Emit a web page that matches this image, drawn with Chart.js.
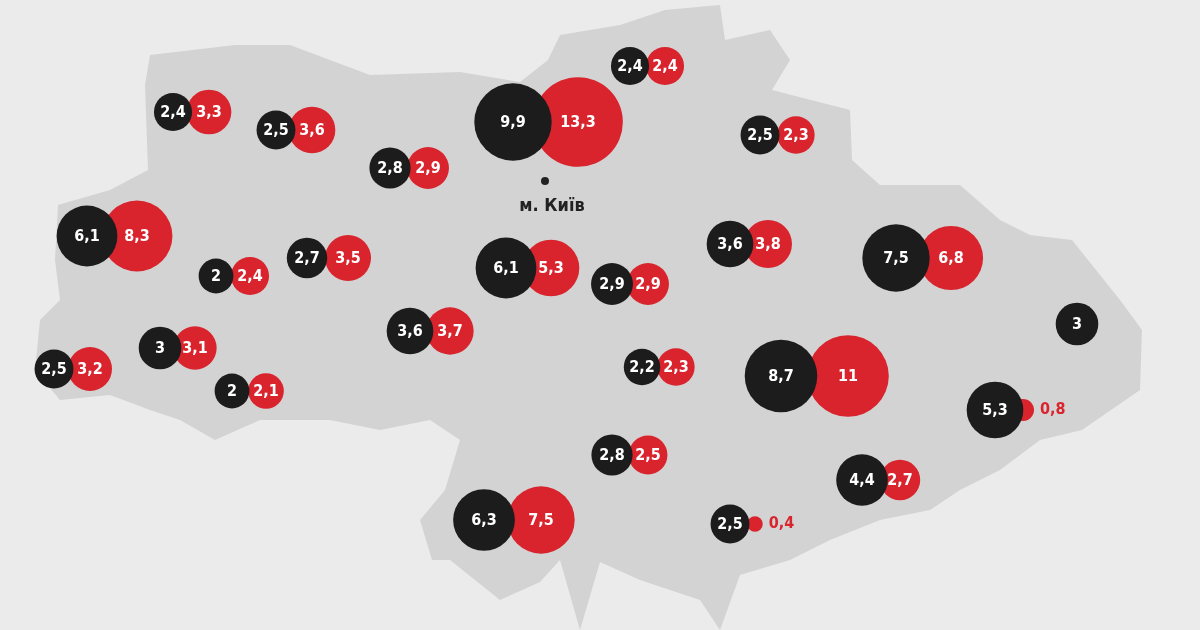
<!DOCTYPE html>
<html><head><meta charset="utf-8">
<script src="https://cdn.jsdelivr.net/npm/chart.js@4/dist/chart.umd.min.js"></script>
<style>html,body{margin:0;background:#ebebeb}#w{width:1200px;height:630px}</style>
</head><body><div id="w"><canvas id="c"></canvas></div>
<script>
// map positions of region bubble pairs (black centre, red centre)
const blackX=[173,276,390,513,630,760,87,216,307,506,612,730,896,1077,54,160,232,410,642,781,995,612,862,484,730];
const blackY=[112,130,168,122,66,135,236,276,258,268,284,244,258,324,369,348,391,331,367,376,410,455,480,520,524];
const redX=[209,312,428,578,665,796,137,250,348,551,648,768,951,null,90,195,266,450,676,848,1023,648,900,541,755];
const blackVals=[2.4,2.5,2.8,9.9,2.4,2.5,6.1,2,2.7,6.1,2.9,3.6,7.5,3,2.5,3,2,3.6,2.2,8.7,5.3,2.8,4.4,6.3,2.5];
const redVals=[3.3,3.6,2.9,13.3,2.4,2.3,8.3,2.4,3.5,5.3,2.9,3.8,6.8,null,3.2,3.1,2.1,3.7,2.3,11,0.8,2.5,2.7,7.5,0.4];
const outlineX=[58,110,148,145,150,235,290,370,460,520,548,560,620,665,720,725,770,790,772,850,852,880,960,1000,1030,1072,1120,1142,1140,1082,1040,1000,960,930,880,830,790,740,720,700,640,600,580,560,540,500,450,432,420,445,460,430,380,330,290,260,215,180,150,110,60,35,40,60,55];
const outlineY=[205,190,170,85,55,45,45,75,72,82,60,35,25,10,5,40,30,60,90,110,160,185,185,220,235,240,300,330,390,430,440,470,490,510,520,540,560,575,630,600,580,562,630,560,582,600,560,560,520,490,440,420,430,420,420,420,440,420,410,395,400,370,320,300,260];
const fmt=v=>String(v).replace('.',',');
const rad=v=>12.3*Math.sqrt(v);
const blackData=blackVals.map((v,i)=>({x:blackX[i],y:blackY[i],r:rad(v),v}));
const redData=redVals.map((v,i)=>v==null?null:({x:redX[i],y:blackY[i],r:rad(v),v})).filter(d=>d);
const FONT='"DejaVu Sans Condensed","Roboto",sans-serif';
const mapPlugin={id:'map',beforeDatasetsDraw(ch){
  const ctx=ch.ctx,xs=ch.scales.x,ys=ch.scales.y;ctx.save();ctx.beginPath();
  outlineX.forEach((x,i)=>{const px=xs.getPixelForValue(x),py=ys.getPixelForValue(outlineY[i]);i?ctx.lineTo(px,py):ctx.moveTo(px,py);});
  ctx.closePath();ctx.fillStyle='#d3d3d3';ctx.fill();ctx.restore();}};
const labels={id:'labels',afterDatasetsDraw(ch){
  const ctx=ch.ctx;ctx.save();ctx.textAlign='center';ctx.textBaseline='middle';
  ctx.font='bold 16px '+FONT;
  [0,1].forEach(di=>{const ds=ch.data.datasets[di];ch.getDatasetMeta(di).data.forEach((el,j)=>{
    const d=ds.data[j];
    if(d.v<1){ctx.fillStyle='#d9232d';ctx.textAlign='left';ctx.fillText(fmt(d.v),el.x+el.options.radius+6,el.y);ctx.textAlign='center';}
    else{ctx.fillStyle='#fff';ctx.fillText(fmt(d.v),el.x,el.y+1);}
  });});
  const xs=ch.scales.x,ys=ch.scales.y;
  ctx.fillStyle='#222';ctx.beginPath();ctx.arc(xs.getPixelForValue(545),ys.getPixelForValue(181),4,0,7);ctx.fill();
  ctx.font='bold 18px '+FONT;
  ctx.fillText('м. Київ',xs.getPixelForValue(552),ys.getPixelForValue(206));
  ctx.restore();}};
new Chart(document.getElementById('c'),{type:'bubble',
 data:{datasets:[
  {data:blackData,backgroundColor:'#1c1c1c',borderColor:'#1c1c1c',borderWidth:0},
  {data:redData,backgroundColor:'#d9232d',borderColor:'#d9232d',borderWidth:0}]},
 options:{responsive:true,maintainAspectRatio:false,animation:false,layout:{padding:0,autoPadding:false},
  plugins:{legend:{display:false},tooltip:{enabled:false}},
  scales:{x:{type:'linear',min:0,max:1200,display:false},y:{type:'linear',min:0,max:630,reverse:true,display:false}}},
 plugins:[mapPlugin,labels]});
</script></body></html>
